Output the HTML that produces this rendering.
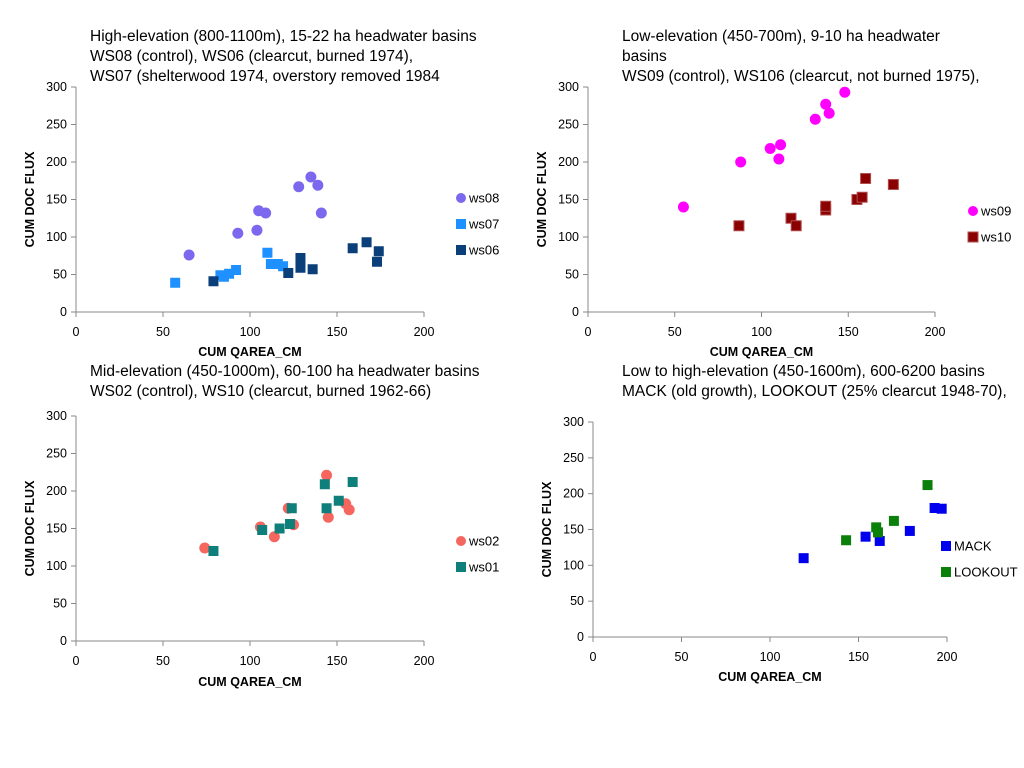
<!DOCTYPE html>
<html><head><meta charset="utf-8"><style>
body{margin:0;background:#fff;width:1024px;height:768px;overflow:hidden;font-family:"Liberation Sans",sans-serif}
svg{position:absolute;left:0;top:0}
</style></head><body>
<svg id="s" width="1024" height="768" font-family="Liberation Sans, sans-serif"></svg>
<script>
// Panel 1 data
const p1_ws08_x=[65,93,104,105,109,128,135,139,141];
const p1_ws08_y=[76,105,109,135,132,167,180,169,132];
const p1_ws07_x=[57,83,85,88,92,110,112,116,119];
const p1_ws07_y=[39,49,47,51,56,79,64,64,61];
const p1_ws06_x=[79,122,129,129,136,159,167,174,173];
const p1_ws06_y=[41,52,72,59,57,85,93,81,67];
// Panel 2 data
const p2_ws09_x=[55,88,105,111,110,131,137,139,148];
const p2_ws09_y=[140,200,218,223,204,257,277,265,293];
const p2_ws10_x=[87,117,120,137,137,155,158,160,176];
const p2_ws10_y=[115,125,115,136,141,150,153,178,170];
// Panel 3 data
const p3_ws02_x=[74,106,114,122,125,144,145,155,157];
const p3_ws02_y=[124,152,139,177,155,221,165,183,175];
const p3_ws01_x=[79,107,117,123,124,143,144,151,159];
const p3_ws01_y=[120,148,150,156,177,209,177,187,212];
// Panel 4 data
const p4_mack_x=[119,154,162,179,193,197];
const p4_mack_y=[110,140,134,148,180,179];
const p4_look_x=[143,160,161,170,189];
const p4_look_y=[135,153,146,162,212];
const xTicks=[0,50,100,150,200];
const yTicks=[0,50,100,150,200,250,300];

const NS="http://www.w3.org/2000/svg";
const svg=document.getElementById('s');
function mk(tag,attrs,parent){const e=document.createElementNS(NS,tag);for(const k in attrs)e.setAttribute(k,attrs[k]);(parent||svg).appendChild(e);return e;}

function panel(cfg){
  const g=mk('g',{});
  
  
  const sx=v=>cfg.x0+(cfg.x1-cfg.x0)*v/200;
  const sy=v=>cfg.y0-(cfg.y0-cfg.y1)*v/300;
  cfg.title.forEach((t,i)=>{
    const e=mk('text',{x:cfg.tx,y:cfg.ty+i*20,'font-size':15.5,fill:'#000'},g);e.textContent=t;
    
    
  });
  const ax=mk('line',{x1:cfg.x0,y1:cfg.y0,x2:cfg.x1,y2:cfg.y0,stroke:'#888','stroke-width':1},g);
  
  
  const ay=mk('line',{x1:cfg.x0,y1:cfg.y0,x2:cfg.x0,y2:sy(300),stroke:'#888','stroke-width':1},g);
  
  
  xTicks.forEach(v=>{
    mk('line',{x1:sx(v),y1:cfg.y0,x2:sx(v),y2:cfg.y0+5,stroke:'#888'},g);
    const t=mk('text',{x:sx(v),y:cfg.y0+24,'font-size':12.5,'text-anchor':'middle'},g);t.textContent=v;
    
    
  });
  yTicks.forEach(v=>{
    mk('line',{x1:cfg.x0-5,y1:sy(v),x2:cfg.x0,y2:sy(v),stroke:'#888'},g);
    const t=mk('text',{x:cfg.x0-9,y:sy(v)+4,'font-size':12.5,'text-anchor':'end'},g);t.textContent=v;
    
    
  });
  const xt=mk('text',{x:sx(100),y:cfg.xty,'font-size':12.5,'font-weight':'bold','text-anchor':'middle'},g);xt.textContent='CUM QAREA_CM';
  
  
  const yc=(cfg.y0+sy(300))/2;
  const yt=mk('text',{x:cfg.x0-42,y:yc,'font-size':12.5,'font-weight':'bold','text-anchor':'middle',transform:`rotate(-90 ${cfg.x0-42} ${yc})`},g);yt.textContent='CUM DOC FLUX';
  
  
  cfg.series.forEach((s,si)=>{
    s.xs.forEach((xv,i)=>{
      let m;
      if(s.shape==='c') m=mk('circle',{cx:sx(xv),cy:sy(s.ys[i]),r:5.5,fill:s.color,stroke:s.stroke||'none'},g);
      else m=mk('rect',{x:sx(xv)-5,y:sy(s.ys[i])-5,width:10,height:10,fill:s.color,stroke:s.stroke||'none'},g);
      
      
    });
    const lx=cfg.lx, ly=cfg.ly+si*cfg.ls;
    let lm;
    if(s.shape==='c') lm=mk('circle',{cx:lx,cy:ly,r:5,fill:s.color},g);
    else lm=mk('rect',{x:lx-5,y:ly-5,width:10,height:10,fill:s.color,stroke:s.stroke||'none'},g);
    
    
    const lt=mk('text',{x:lx+8,y:ly+4.5,'font-size':13},g);lt.textContent=s.label;
    
    
  });
}

panel({name:'high-elevation-chart',x0:76,x1:424,y0:312,y1:87,tx:90,ty:41,xty:356,lx:461,ly:198,ls:26,
  title:['High-elevation (800-1100m), 15-22 ha headwater basins','WS08 (control), WS06 (clearcut, burned 1974),','WS07 (shelterwood 1974, overstory removed 1984'],
  series:[{label:'ws08',shape:'c',color:'#7b68ee',xs:p1_ws08_x,ys:p1_ws08_y},
          {label:'ws07',shape:'s',color:'#1e90ff',xs:p1_ws07_x,ys:p1_ws07_y},
          {label:'ws06',shape:'s',color:'#0b3f7a',xs:p1_ws06_x,ys:p1_ws06_y}]});
panel({name:'low-elevation-chart',x0:588,x1:935,y0:312,y1:87,tx:622,ty:41,xty:356,lx:973,ly:211,ls:26,
  title:['Low-elevation (450-700m), 9-10 ha headwater','basins','WS09 (control), WS106 (clearcut, not burned 1975),'],
  series:[{label:'ws09',shape:'c',color:'#ff00ff',xs:p2_ws09_x,ys:p2_ws09_y},
          {label:'ws10',shape:'s',color:'#8b0000',stroke:'#b05050',xs:p2_ws10_x,ys:p2_ws10_y}]});
panel({name:'mid-elevation-chart',x0:76,x1:424,y0:641,y1:416,tx:90,ty:376,xty:686,lx:461,ly:541,ls:26,
  title:['Mid-elevation (450-1000m), 60-100 ha headwater basins','WS02 (control), WS10 (clearcut, burned 1962-66)'],
  series:[{label:'ws02',shape:'c',color:'#f4665e',xs:p3_ws02_x,ys:p3_ws02_y},
          {label:'ws01',shape:'s',color:'#0e7f7a',xs:p3_ws01_x,ys:p3_ws01_y}]});
panel({name:'large-basin-chart',x0:593,x1:947,y0:637,y1:422,tx:622,ty:376,xty:681,lx:946,ly:546,ls:26,
  title:['Low to high-elevation (450-1600m), 600-6200 basins','MACK (old growth), LOOKOUT (25% clearcut 1948-70),'],
  series:[{label:'MACK',shape:'s',color:'#0000ee',xs:p4_mack_x,ys:p4_mack_y},
          {label:'LOOKOUT',shape:'s',color:'#0a7f0a',xs:p4_look_x,ys:p4_look_y}]});
</script>
</body></html>
